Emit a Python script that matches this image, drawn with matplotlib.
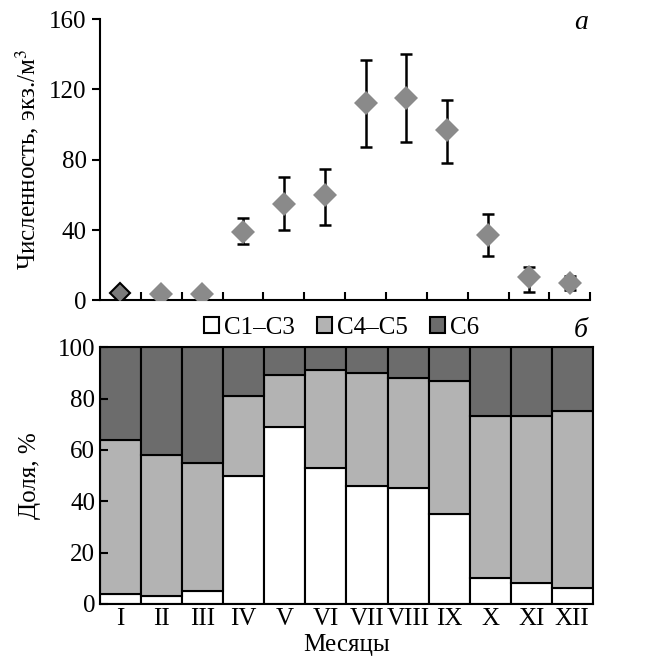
import numpy as np
import matplotlib.pyplot as plt

plt.rcParams['font.family'] = ['Liberation Serif', 'DejaVu Serif']
plt.rcParams['mathtext.fontset'] = 'stix'

months = ['I', 'II', 'III', 'IV', 'V', 'VI', 'VII', 'VIII', 'IX', 'X', 'XI', 'XII']

# численность, экз./м3 (среднее и границы ошибки)
abund = [4, 3.5, 3.5, 39, 55, 60, 112, 115, 97, 37, 13, 10]
err_hi = [4, 3.5, 3.5, 47, 70, 75, 137, 140, 114, 49, 19, 14]
err_lo = [4, 3.5, 3.5, 32, 40, 43, 87, 90, 78, 25, 5, 6]

# доля стадий, %
c1_c3 = [4, 3, 5, 50, 69, 53, 46, 45, 35, 10, 8, 6]
c4_c5 = [60, 55, 50, 31, 20, 38, 44, 43, 52, 63, 65, 69]
c6 = [100 - a - b for a, b in zip(c1_c3, c4_c5)]

x = np.arange(len(months))
abund = np.array(abund)
yerr = [abund - np.array(err_lo), np.array(err_hi) - abund]

fs = 18
fig = plt.figure(figsize=(6.58, 6.60), dpi=100)

# --- панель а ---
ax1 = fig.add_axes([0.152, 0.545, 0.745, 0.426])
has_err = np.array(err_hi) > abund
ax1.errorbar(x[has_err], abund[has_err], yerr=[yerr[0][has_err], yerr[1][has_err]],
             fmt='none', ecolor='black', elinewidth=1.8, capsize=4.5, capthick=1.8, zorder=2)
ax1.plot(x[1:], abund[1:], 'D', color='#8a8a8a', markersize=12, markeredgewidth=0, zorder=3)
ax1.plot(x[:1], abund[:1], 'D', color='#7a7a7a', markersize=10, markeredgecolor='black',
         markeredgewidth=1.5, zorder=3)
ax1.set_xlim(-0.5, 11.5)
ax1.set_ylim(0, 160)
ax1.set_yticks([0, 40, 80, 120, 160])
ax1.set_xticks(np.arange(0.5, 11.6, 1))
ax1.set_xticklabels([])
ax1.tick_params(axis='x', direction='in', length=6, width=1.5)
ax1.tick_params(axis='y', direction='out', length=6, width=1.5, labelsize=fs)
ax1.spines['top'].set_visible(False)
ax1.spines['right'].set_visible(False)
for s in ['left', 'bottom']:
    ax1.spines[s].set_linewidth(1.5)
ax1.set_ylabel('Численность, экз./м$^3$', fontsize=fs)
ax1.yaxis.set_label_coords(-0.12, 0.5)
fig.text(0.893, 0.985, 'а', ha='right', va='top', fontsize=fs + 2, style='italic')

# --- панель б ---
ax2 = fig.add_axes([0.152, 0.085, 0.749, 0.389])
ax2.bar(x, c1_c3, width=1.0, color='white', edgecolor='black', linewidth=1.5, label='C1–C3')
ax2.bar(x, c4_c5, width=1.0, bottom=c1_c3, color='#b3b3b3', edgecolor='black',
        linewidth=1.5, label='C4–C5')
ax2.bar(x, c6, width=1.0, bottom=np.add(c1_c3, c4_c5), color='#6c6c6c', edgecolor='black',
        linewidth=1.5, label='C6')
ax2.set_xlim(-0.5, 11.5)
ax2.set_ylim(0, 100)
ax2.set_yticks([0, 20, 40, 60, 80, 100])
ax2.set_xticks(x)
ax2.set_xticklabels(months)
ax2.tick_params(axis='x', length=0, labelsize=fs, pad=3)
ax2.tick_params(axis='y', direction='in', length=6, width=1.5, labelsize=fs)
for s in ax2.spines.values():
    s.set_linewidth(1.5)
ax2.set_ylabel('Доля, %', fontsize=fs)
ax2.yaxis.set_label_coords(-0.12, 0.5)
ax2.set_xlabel('Месяцы', fontsize=fs, labelpad=3)
ax2.legend(loc='lower center', bbox_to_anchor=(0.49, 0.985), ncol=3, frameon=False,
           fontsize=fs, handlelength=0.6, handleheight=0.6, handletextpad=0.2,
           columnspacing=0.9, borderpad=0)
ax2.text(0.99, 1.015, 'б', transform=ax2.transAxes, ha='right', va='bottom',
         fontsize=fs + 2, style='italic')

fig.savefig('out.png', dpi=100)
